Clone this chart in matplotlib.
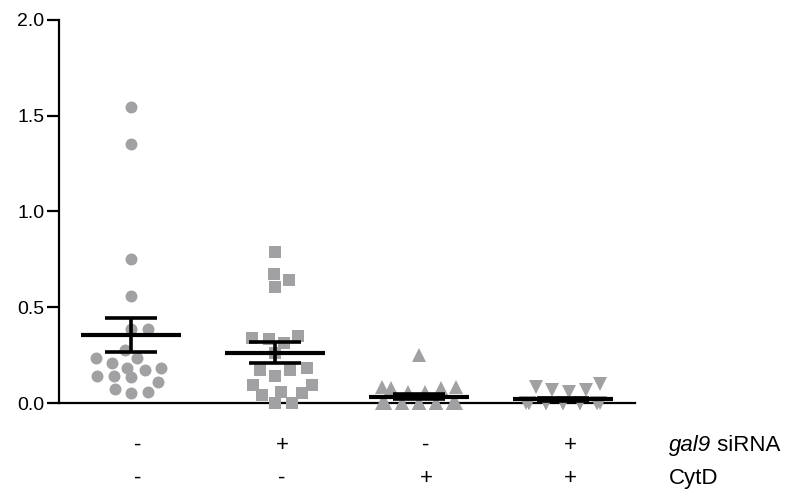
import numpy as np
import matplotlib
matplotlib.use("Agg")
import matplotlib.pyplot as plt
from matplotlib.transforms import blended_transform_factory

plt.rcParams['font.family'] = ['Liberation Sans', 'DejaVu Sans']

# ---------------- data ----------------
g1_values = [1.544, 1.352, 0.750, 0.560, 0.385, 0.385, 0.277, 0.233, 0.233, 0.210,
             0.181, 0.181, 0.172, 0.141, 0.141, 0.134, 0.110, 0.073, 0.059, 0.054]
g2_values = [0.790, 0.674, 0.642, 0.604, 0.350, 0.338, 0.334, 0.312, 0.260, 0.181,
             0.172, 0.172, 0.143, 0.094, 0.094, 0.059, 0.051, 0.042, 0.0, 0.0]
g3_values = [0.250, 0.085, 0.082, 0.077, 0.077, 0.059, 0.059,
             0.0, 0.0, 0.0, 0.0, 0.0, 0.0, 0.0, 0.0, 0.0, 0.0, 0.0, 0.0, 0.0, 0.0]
g4_values = [0.099, 0.085, 0.068, 0.068, 0.059,
             0.0, 0.0, 0.0, 0.0, 0.0, 0.0, 0.0, 0.0, 0.0, 0.0, 0.0, 0.0, 0.0, 0.0, 0.0]
group_means = [0.355, 0.263, 0.033, 0.019]
group_sems = [0.090, 0.054, 0.012, 0.006]
gal9_row = ['-', '+', '-', '+']
cytd_row = ['-', '-', '+', '+']
yticks = [0.0, 0.5, 1.0, 1.5, 2.0]

groups = [g1_values, g2_values, g3_values, g4_values]
markers = ['o', 's', '^', 'v']
msizes = [8.6, 8.4, 9.6, 9.6]
gray = '#a1a1a3'

W, H = 798, 494
fig = plt.figure(figsize=(W / 100, H / 100), dpi=100)
ax_l, ax_r, ax_b, ax_t = 59, 635, 91, 474
ax = fig.add_axes([ax_l / W, ax_b / H, (ax_r - ax_l) / W, (ax_t - ax_b) / H])
ax.set_xlim(0.5, 4.5)
ax.set_ylim(0, 2.0)

px_x = (ax_r - ax_l) / 4.0
px_y = (ax_t - ax_b) / 2.0


def swarm(values, dx0=17.0, dy0=12.0, cap=37.0):
    """Beeswarm offsets (pixels) for values, ascending placement."""
    vals = np.asarray(values, float)
    order = np.argsort(vals, kind='stable')
    ys = vals * px_y
    placed_x, placed_y = [], []
    offs = np.zeros(len(vals))
    grid = np.linspace(-cap, cap, 297)
    for idx in order:
        y = ys[idx]
        cands = [0.0]
        for xj, yj in zip(placed_x, placed_y):
            dy = y - yj
            if abs(dy) < dy0:
                d = dx0 * np.sqrt(1 - (dy / dy0) ** 2)
                cands += [xj + d, xj - d]
        cands = [c for c in cands if abs(c) <= cap + 1e-9] + list(grid)
        best = None
        for c in cands:
            cost = 0.0
            for xj, yj in zip(placed_x, placed_y):
                v = 1 - ((c - xj) / dx0) ** 2 - ((y - yj) / dy0) ** 2
                if v > 1e-6:
                    cost += v
            key = (round(cost, 4), round(abs(c), 3), -np.sign(c))
            if best is None or key < best[0]:
                best = (key, c)
        offs[idx] = best[1]
        placed_x.append(best[1])
        placed_y.append(y)
    return offs / px_x


for i, vals in enumerate(groups):
    xc = i + 1
    offs = swarm(vals)
    ax.plot(xc + offs, vals, linestyle='none', marker=markers[i], markersize=msizes[i],
            color=gray, markeredgewidth=0, clip_on=False, zorder=3)
    m, s = group_means[i], group_sems[i]
    ax.hlines(m, xc - 0.345, xc + 0.345, color='black', lw=3.0, zorder=5,
              capstyle='butt', clip_on=False)
    ax.hlines([m - s, m + s], xc - 0.184, xc + 0.184, color='black', lw=2.6, zorder=5,
              capstyle='butt', clip_on=False)
    ax.vlines(xc, m - s, m + s, color='black', lw=2.6, zorder=5, clip_on=False)

for side in ['top', 'right']:
    ax.spines[side].set_visible(False)
for side in ['left', 'bottom']:
    ax.spines[side].set_linewidth(1.6)
    ax.spines[side].set_color('black')
    ax.spines[side].set_zorder(2)

ax.set_yticks(yticks)
ax.set_yticklabels([f'{t:.1f}' for t in yticks])
ax.tick_params(axis='y', length=8.5, width=1.6, pad=2, labelsize=14, direction='out')
ax.set_xticks([])

trans = blended_transform_factory(ax.transData, fig.transFigure)
row_y = [(H - 445) / H, (H - 478) / H]
for i in range(4):
    ax.text(i + 1 + 0.049, row_y[0], gal9_row[i], transform=trans, ha='center',
            va='center', fontsize=16)
    ax.text(i + 1 + 0.049, row_y[1], cytd_row[i], transform=trans, ha='center',
            va='center', fontsize=16)

lx = 669 / W
t1 = fig.text(lx, row_y[0], 'gal9', style='italic', ha='left', va='center', fontsize=16)
fig.canvas.draw()
bb = t1.get_window_extent(renderer=fig.canvas.get_renderer())
fig.text(bb.x1 / W, row_y[0], '\u00a0siRNA', ha='left', va='center', fontsize=16)
fig.text(lx, row_y[1], 'CytD', ha='left', va='center', fontsize=16)

fig.savefig('out.png', dpi=100)
